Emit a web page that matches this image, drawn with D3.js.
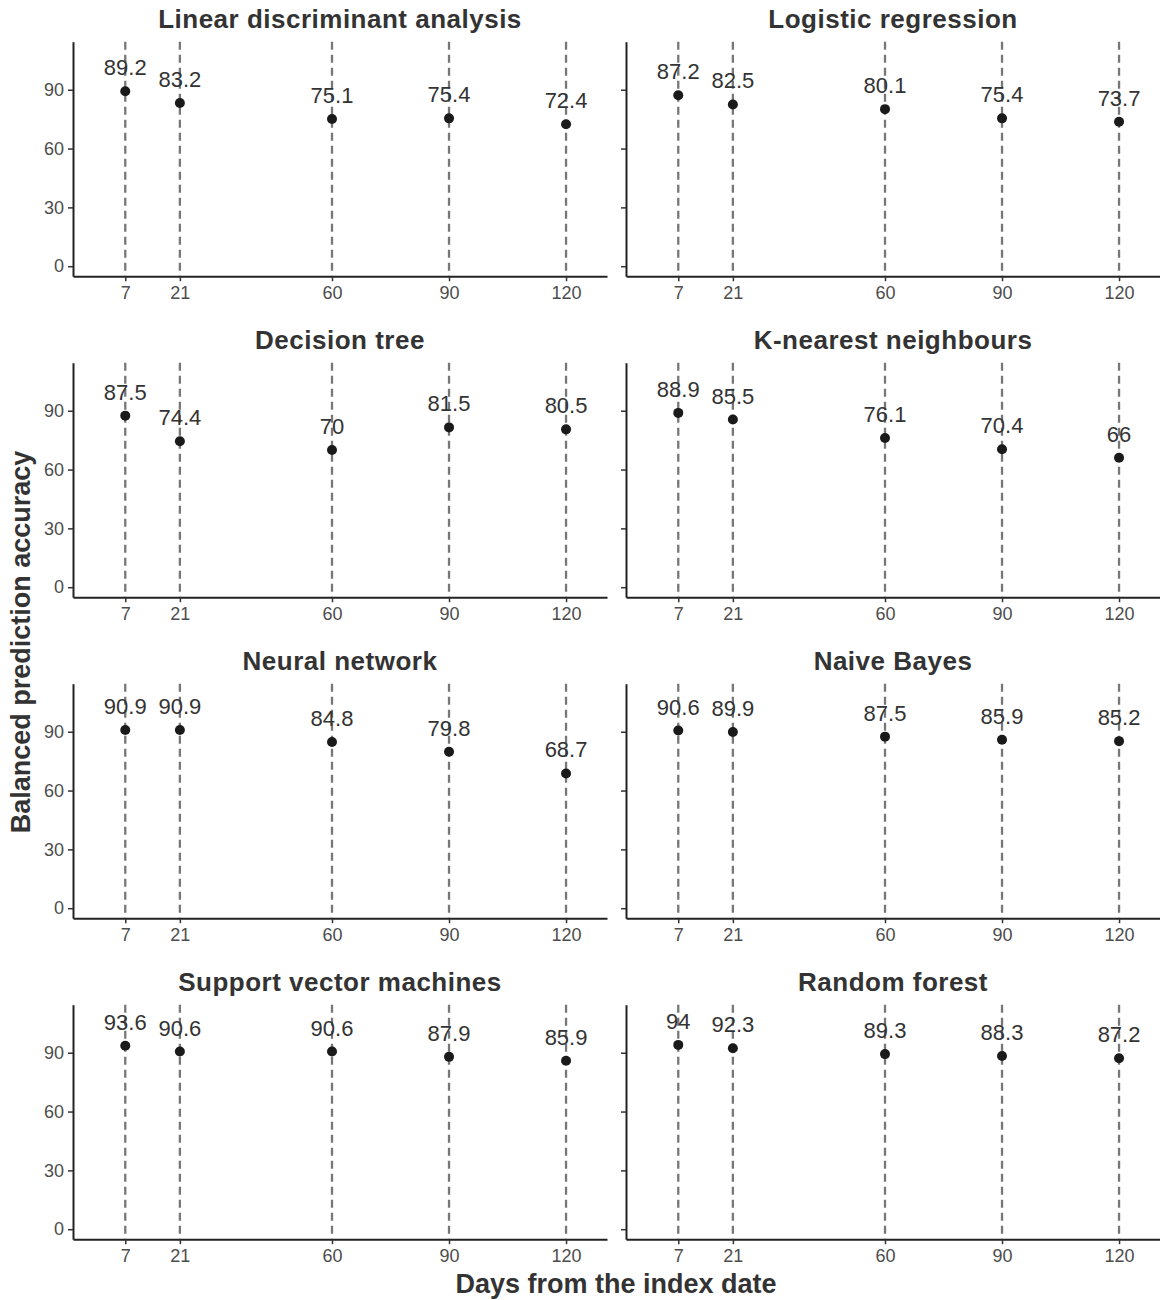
<!DOCTYPE html>
<html lang="en">
<head>
<meta charset="UTF-8">
<title>Balanced prediction accuracy by model</title>
<script src="https://d3js.org/d3.v7.min.js"></script>
<style>
    body { margin: 0; background: #fff; }
    svg text { font-family: 'Liberation Sans', Arial, sans-serif; }
</style>
</head>
<body>
<div id="chart"></div>
<script>
    // x positions (days) and tick labels
    const days = [7, 21, 60, 90, 120];
    const yTicks = [0, 30, 60, 90];

    // panel titles, in reading order
    const models = [
        "Linear discriminant analysis", "Logistic regression",
        "Decision tree", "K-nearest neighbours",
        "Neural network", "Naive Bayes",
        "Support vector machines", "Random forest"
    ];

    // balanced accuracy per model, one value per day
    const lda = [89.2, 83.2, 75.1, 75.4, 72.4];
    const logreg = [87.2, 82.5, 80.1, 75.4, 73.7];
    const dtree = [87.5, 74.4, 70, 81.5, 80.5];
    const knn = [88.9, 85.5, 76.1, 70.4, 66];
    const nnet = [90.9, 90.9, 84.8, 79.8, 68.7];
    const nbayes = [90.6, 89.9, 87.5, 85.9, 85.2];
    const svm = [93.6, 90.6, 90.6, 87.9, 85.9];
    const rforest = [94, 92.3, 89.3, 88.3, 87.2];

    const values = [lda, logreg, dtree, knn, nnet, nbayes, svm, rforest];

    const width = 1160, height = 1300;

    // panel geometry
    const colX = [73, 626];
    const panelW = 534;
    const rowTop = 41.7;
    const rowStep = 321;
    const panelH = 234.5;

    const svg = d3.select("#chart")
        .append("svg")
        .attr("width", width)
        .attr("height", height);

    const x = d3.scaleLinear().domain([-6.4, 130.5]).range([0, panelW]);
    const y = d3.scaleLinear().domain([-5.1, 114.5]).range([panelH, 0]);

    models.forEach((name, i) => {
        const col = i % 2, row = Math.floor(i / 2);
        const g = svg.append("g")
            .attr("transform", `translate(${colX[col]},${rowTop + row * rowStep})`);

        // title
        g.append("text")
            .attr("x", panelW / 2)
            .attr("y", -14)
            .attr("text-anchor", "middle")
            .attr("font-size", 26)
            .attr("letter-spacing", 0.5)
            .attr("font-weight", "bold")
            .attr("fill", "#333")
            .text(name);

        // dashed reference lines at each day
        g.selectAll("line.ref")
            .data(days)
            .join("line")
            .attr("class", "ref")
            .attr("x1", d => x(d)).attr("x2", d => x(d))
            .attr("y1", 0).attr("y2", panelH)
            .attr("stroke", "#777")
            .attr("stroke-width", 2.3)
            .attr("stroke-dasharray", "8,5");

        // axes
        const xAxis = g.append("g")
            .attr("transform", `translate(0,${panelH})`)
            .call(d3.axisBottom(x).tickValues(days).tickSize(5).tickSizeOuter(0));
        const yAxis = g.append("g")
            .call(d3.axisLeft(y).tickValues(yTicks).tickSize(5).tickSizeOuter(0).tickPadding(4)
                .tickFormat(col === 0 ? d3.format("d") : () => ""));

        [xAxis, yAxis].forEach(a => {
            a.select(".domain").attr("stroke", "#222").attr("stroke-width", 2);
            a.selectAll(".tick line").attr("stroke", "#333").attr("stroke-width", 1.5);
            a.selectAll(".tick text")
                .attr("font-size", 18)
                .attr("fill", "#4d4d4d")
                .attr("font-family", "'Liberation Sans', Arial, sans-serif");
        });
        xAxis.selectAll(".tick text").attr("dy", "0.85em");

        const pts = days.map((d, k) => ({ day: d, v: values[i][k] }));

        g.selectAll("circle")
            .data(pts)
            .join("circle")
            .attr("cx", d => x(d.day))
            .attr("cy", d => y(d.v))
            .attr("r", 5)
            .attr("fill", "#1a1a1a");

        g.selectAll("text.val")
            .data(pts)
            .join("text")
            .attr("class", "val")
            .attr("x", d => x(d.day))
            .attr("y", d => y(d.v) - 16)
            .attr("text-anchor", "middle")
            .attr("font-size", 22)
            .attr("fill", "#333")
            .text(d => String(d.v));
    });

    // shared axis titles
    svg.append("text")
        .attr("x", 616)
        .attr("y", 1293)
        .attr("text-anchor", "middle")
        .attr("font-size", 27)
        .attr("font-weight", "bold")
        .attr("fill", "#333")
        .text("Days from the index date");

    svg.append("text")
        .attr("transform", "translate(30,642) rotate(-90)")
        .attr("text-anchor", "middle")
        .attr("font-size", 27)
        .attr("font-weight", "bold")
        .attr("fill", "#333")
        .text("Balanced prediction accuracy");
</script>
</body>
</html>
